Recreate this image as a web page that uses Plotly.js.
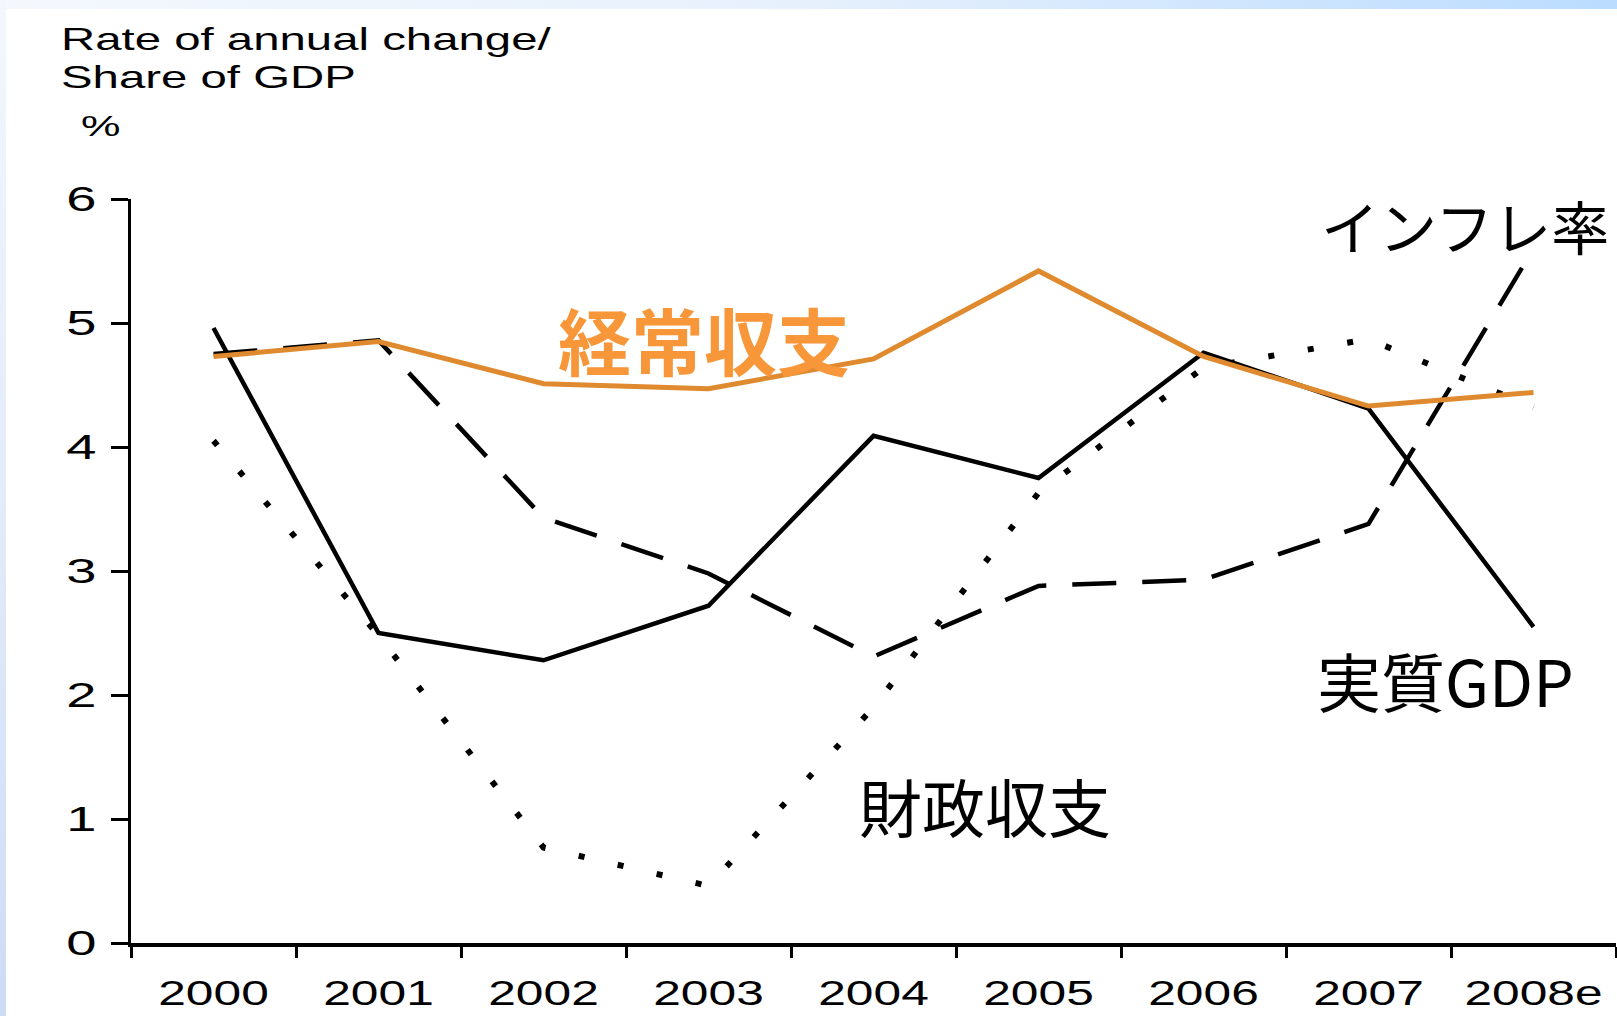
<!DOCTYPE html>
<html>
<head>
<meta charset="utf-8">
<script src="https://cdn.plot.ly/plotly-3.0.1.min.js"></script>
<style>
  html, body { margin: 0; padding: 0; background: #ffffff; width: 1617px; height: 1016px; overflow: hidden; }
  #topstrip { position: absolute; left: 0; top: 0; width: 1617px; height: 9px; background: linear-gradient(to right, #F4F8FD, #E6F0FC 50%, #BBDCFF); }
  #leftstrip { position: absolute; left: 0; top: 0; width: 6px; height: 1016px; background: linear-gradient(to bottom, #F3F7FD, #E2EBF9 50%, #CCDCF5); }
  #chart { position: absolute; left: 0; top: 0; width: 1617px; height: 1016px; }
</style>
</head>
<body>
<div id="topstrip"></div>
<div id="leftstrip"></div>
<div id="chart"></div>
<script>
// ---- data ----
const years = ['2000', '2001', '2002', '2003', '2004', '2005', '2006', '2007', '2008e'];
const realGDP        = [4.96, 2.50, 2.28, 2.72, 4.09, 3.75, 4.76, 4.31, 2.55];
const inflation      = [4.75, 4.86, 3.43, 2.98, 2.31, 2.88, 2.93, 3.38, 5.60];
const fiscalBalance  = [4.05, 2.48, 0.77, 0.46, 1.90, 3.63, 4.64, 4.87, 4.32];
const currentAccount = [4.73, 4.85, 4.51, 4.47, 4.71, 5.42, 4.73, 4.33, 4.44];
const yTickValues = [0, 1, 2, 3, 4, 5, 6];

const axisTitleLines = ['Rate of annual change/', 'Share of GDP', '%'];
const seriesLabels = {
  currentAccount: '経常収支',
  fiscalBalance: '財政収支',
  realGDP: '実質GDP',
  inflation: 'インフレ率'
};

// ---- layout geometry (pixels) ----
const W = 1617, H = 1016;
const M = { l: 131, r: 1, t: 199, b: 73 };
const PW = W - M.l - M.r, PH = H - M.t - M.b;
const px = x => (x - M.l) / PW;
const py = y => (H - M.b - y) / PH;

const latin = 'Liberation Sans, Arial, sans-serif';
const cjk = 'Noto Sans CJK JP, sans-serif';

const traces = [
  { x: years, y: fiscalBalance, mode: 'lines', line: { color: '#000', width: 6, dash: '6px,34px' }, name: seriesLabels.fiscalBalance },
  { x: years, y: inflation, mode: 'lines', line: { color: '#000', width: 4.5, dash: '44px,26px' }, name: seriesLabels.inflation },
  { x: years, y: realGDP, mode: 'lines', line: { color: '#000', width: 4.5 }, name: seriesLabels.realGDP },
  { x: years, y: currentAccount, mode: 'lines', line: { color: '#DF8A2F', width: 5 }, name: seriesLabels.currentAccount }
];

const annotations = [
  { text: axisTitleLines[0], x: px(59), y: py(39), xanchor: 'left', yanchor: 'middle', font: { family: latin, size: 32, color: '#000' } },
  { text: axisTitleLines[1], x: px(59), y: py(77), xanchor: 'left', yanchor: 'middle', font: { family: latin, size: 32, color: '#000' } },
  { text: axisTitleLines[2], x: px(79), y: py(126), xanchor: 'left', yanchor: 'middle', font: { family: latin, size: 30, color: '#000' } },
  { text: seriesLabels.currentAccount, x: px(704), y: py(338), xanchor: 'center', yanchor: 'middle', font: { family: cjk, size: 73, color: '#F7973A', weight: 700 } },
  { text: seriesLabels.fiscalBalance, x: px(985), y: py(804), xanchor: 'center', yanchor: 'middle', font: { family: cjk, size: 63, color: '#000' } },
  { text: seriesLabels.realGDP, x: px(1445), y: py(679), xanchor: 'center', yanchor: 'middle', font: { family: cjk, size: 64, color: '#000' } },
  { text: seriesLabels.inflation, x: px(1465), y: py(225), xanchor: 'center', yanchor: 'middle', font: { family: cjk, size: 58, color: '#000' } }
].map(a => Object.assign({ xref: 'paper', yref: 'paper', showarrow: false }, a));

const layout = {
  width: W, height: H,
  margin: M,
  paper_bgcolor: 'rgba(0,0,0,0)',
  plot_bgcolor: 'rgba(0,0,0,0)',
  showlegend: false,
  xaxis: {
    type: 'category',
    range: [-0.5, years.length - 0.5],
    showgrid: false, zeroline: false,
    showline: true, linecolor: '#000', linewidth: 3.5,
    ticks: 'outside', tickson: 'boundaries', ticklen: 11, tickwidth: 3, tickcolor: '#000',
    ticklabelstandoff: 17,
    tickfont: { family: latin, size: 35, color: '#000' },
    fixedrange: true
  },
  yaxis: {
    range: [0, 6],
    tickvals: yTickValues,
    ticktext: yTickValues.map(String),
    showgrid: false, zeroline: false,
    showline: true, linecolor: '#000', linewidth: 3.5,
    ticks: 'outside', ticklen: 17, tickwidth: 3, tickcolor: '#000',
    ticklabelstandoff: 7,
    tickfont: { family: latin, size: 35, color: '#000' },
    fixedrange: true
  },
  annotations: annotations
};

function stretch(el, s, anchor) {
  const bb = el.getBBox();
  const cx = anchor === 'left' ? bb.x : anchor === 'right' ? bb.x + bb.width : bb.x + bb.width / 2;
  const prev = el.getAttribute('transform') || '';
  el.setAttribute('transform', prev + ' translate(' + cx + ',0) scale(' + s + ',1) translate(' + (-cx) + ',0)');
}

Plotly.newPlot('chart', traces, layout, { staticPlot: true, displayModeBar: false }).then(gd => {
  gd.querySelectorAll('.xtick text').forEach(t => stretch(t, 1.42, 'center'));
  gd.querySelectorAll('.ytick text').forEach(t => stretch(t, 1.55, 'right'));
  const ann = gd.querySelectorAll('.annotation');
  ann.forEach(g => {
    const idx = +g.getAttribute('data-index');
    if (idx <= 2) {
      const t = g.querySelector('text');
      if (t) stretch(t, 1.48, 'left');
    }
  });
});
</script>
</body>
</html>
